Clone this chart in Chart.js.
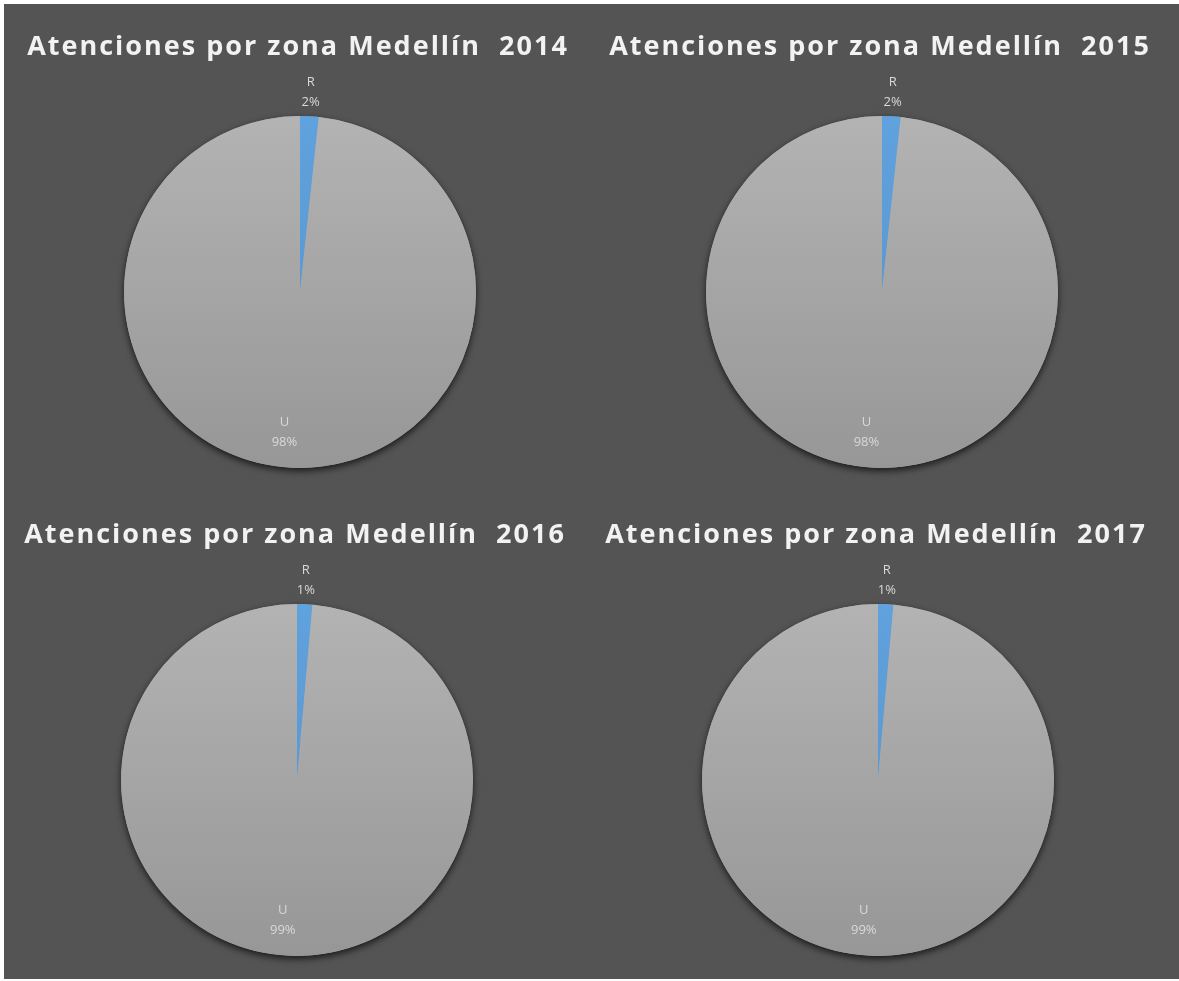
<!DOCTYPE html>
<html>
<head>
<meta charset="utf-8">
<script src="https://cdn.jsdelivr.net/npm/chart.js@4.4.1/dist/chart.umd.min.js"></script>
<style>
  body { margin: 0; background: #ffffff; }
  #board {
    position: absolute; left: 4px; top: 4px; width: 1175px; height: 975px;
    background: #545454;
  }
  canvas { position: absolute; }
</style>
</head>
<body>
<div id="board"></div>
<canvas id="c2014" width="582" height="488" style="left:9px;top:4px"></canvas>
<canvas id="c2015" width="582" height="488" style="left:591px;top:4px"></canvas>
<canvas id="c2016" width="582" height="488" style="left:6px;top:492px"></canvas>
<canvas id="c2017" width="582" height="488" style="left:587px;top:492px"></canvas>
<script>
// Datos: porcentaje de atenciones por zona (R = rural, U = urbana)
const years = ['2014', '2015', '2016', '2017'];
const zones = ['R', 'U'];
const ruralShare = [1.7, 1.7, 1.4, 1.4];
const urbanShare = [98.3, 98.3, 98.6, 98.6];
const titlePrefix = 'Atenciones por zona Medellín  ';

// Colores (arriba / abajo del degradado)
const sliceColors = [['#60a2de', '#5590c8'], ['#b3b3b3', '#979797']];
const textColor = '#d9d9d9';
const titleColor = '#f2f2f2';

function sliceGradient(ctx) {
    const chart = ctx.chart;
    const area = chart.chartArea;
    const [top, bottom] = sliceColors[ctx.dataIndex] || sliceColors[1];
    if (!area) return bottom;
    const g = chart.ctx.createLinearGradient(0, area.top, 0, area.bottom);
    g.addColorStop(0, top);
    g.addColorStop(1, bottom);
    return g;
}

// Título con espaciado entre letras
const titlePlugin = {
    id: 'zonaTitle',
    afterDraw(chart, args, opts) {
        const c = chart.ctx;
        c.save();
        c.font = 'bold 27px "Open Sans"';
        c.letterSpacing = '2px';
        c.fillStyle = titleColor;
        c.textAlign = 'center';
        c.textBaseline = 'middle';
        c.fillText(opts.text, chart.width / 2 - 2, 43);
        c.restore();
    }
};

// Sombra debajo del pastel
const shadowPlugin = {
    id: 'pieShadow',
    beforeDatasetsDraw(chart) {
        const arc = chart.getDatasetMeta(0).data[0];
        if (!arc) return;
        const c = chart.ctx;
        c.save();
        c.shadowColor = 'rgba(0, 0, 0, 0.7)';
        c.shadowBlur = 7;
        c.shadowOffsetY = 3;
        c.beginPath();
        c.arc(arc.x, arc.y, arc.outerRadius, 0, Math.PI * 2);
        c.fillStyle = '#a3a3a3';
        c.fill();
        c.restore();
    }
};

// Etiquetas: nombre de zona y porcentaje
const labelPlugin = {
    id: 'zonaLabels',
    afterDatasetsDraw(chart) {
        const c = chart.ctx;
        const data = chart.data.datasets[0].data;
        const total = data.reduce((a, b) => a + b, 0);
        c.save();
        c.font = '13px "Open Sans"';
        c.fillStyle = textColor;
        c.textAlign = 'center';
        c.textBaseline = 'middle';
        chart.getDatasetMeta(0).data.forEach((arc, i) => {
            const mid = (arc.startAngle + arc.endAngle) / 2;
            const r = i === 0 ? arc.outerRadius + 24 : arc.outerRadius * 0.8;
            const x = arc.x + Math.cos(mid) * r + (i === 0 ? 0 : -8);
            const y = arc.y + Math.sin(mid) * r;
            const pct = Math.round(data[i] / total * 100) + '%';
            c.fillText(chart.data.labels[i], x, y - 10);
            c.fillText(pct, x, y + 10);
        });
        c.restore();
    }
};

years.forEach((year, i) => {
    new Chart(document.getElementById('c' + year), {
        type: 'pie',
        data: {
            labels: zones,
            datasets: [{
                data: [ruralShare[i], urbanShare[i]],
                backgroundColor: sliceGradient,
                borderWidth: 0
            }]
        },
        options: {
            responsive: false,
            animation: false,
            layout: { padding: { top: 112, bottom: 24, left: 115, right: 115 } },
            plugins: {
                legend: { display: false },
                tooltip: { enabled: false },
                zonaTitle: { text: titlePrefix + year }
            }
        },
        plugins: [shadowPlugin, labelPlugin, titlePlugin]
    });
});
</script>
</body>
</html>
